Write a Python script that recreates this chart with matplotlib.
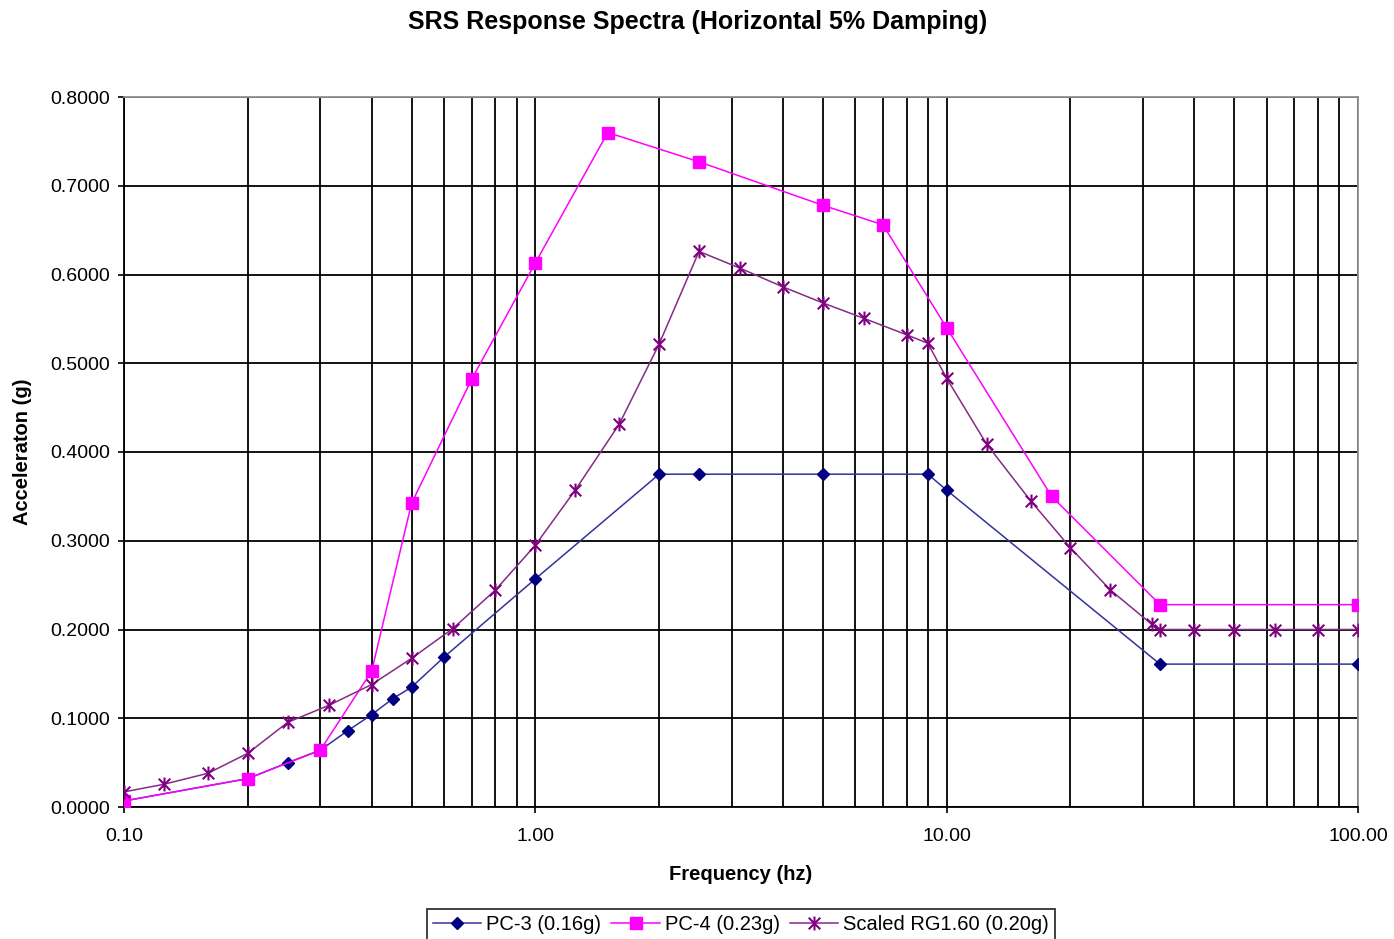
import matplotlib
matplotlib.use("Agg")
import matplotlib.pyplot as plt
from matplotlib.path import Path
from matplotlib.ticker import FixedLocator, NullFormatter, FixedFormatter

# ---------------- data ----------------
pc3_freq = [0.1, 0.2, 0.25, 0.3, 0.35, 0.4, 0.45, 0.5, 0.6, 1.0, 2.0, 2.5, 5.0, 9.0, 10.0, 33.0, 100.0]
pc3_acc = [0.0068, 0.032, 0.050, 0.064, 0.086, 0.104, 0.122, 0.135, 0.169, 0.257, 0.375, 0.375, 0.375, 0.375, 0.357, 0.161, 0.161]

pc4_freq = [0.1, 0.2, 0.3, 0.4, 0.5, 0.7, 1.0, 1.5, 2.5, 5.0, 7.0, 10.0, 18.0, 33.0, 100.0]
pc4_acc = [0.0068, 0.032, 0.064, 0.153, 0.342, 0.482, 0.613, 0.760, 0.727, 0.678, 0.656, 0.540, 0.350, 0.228, 0.228]

rg_freq = [0.1, 0.125, 0.16, 0.2, 0.25, 0.315, 0.4, 0.5, 0.63, 0.8, 1.0, 1.25, 1.6, 2.0, 2.5,
           3.15, 4.0, 5.0, 6.3, 8.0, 9.0, 10.0, 12.5, 16.0, 20.0, 25.0, 31.5, 33.0, 40.0, 50.0, 63.0, 80.0, 100.0]
rg_acc = [0.017, 0.0256, 0.038, 0.0605, 0.0954, 0.1146, 0.138, 0.1675, 0.201, 0.2445, 0.295, 0.357, 0.4315, 0.5217, 0.6260,
          0.607, 0.586, 0.568, 0.5505, 0.532, 0.5225, 0.483, 0.409, 0.345, 0.292, 0.2445, 0.206, 0.200, 0.200, 0.200, 0.200, 0.200, 0.200]

series_labels = ["PC-3 (0.16g)", "PC-4 (0.23g)", "Scaled RG1.60 (0.20g)"]

y_ticks = [0.0, 0.1, 0.2, 0.3, 0.4, 0.5, 0.6, 0.7, 0.8]
x_major = [0.1, 1.0, 10.0, 100.0]
x_major_labels = ["0.10", "1.00", "10.00", "100.00"]

title = "SRS Response Spectra (Horizontal 5% Damping)"
xlabel = "Frequency (hz)"
ylabel = "Acceleraton (g)"

# ---------------- style ----------------
plt.rcParams['font.family'] = ['Liberation Sans', 'DejaVu Sans']

# Excel-like star marker: an x with a vertical bar
star_path = Path(
    [(-1, -1), (1, 1), (-1, 1), (1, -1), (0, -1.2), (0, 1.2)],
    [Path.MOVETO, Path.LINETO, Path.MOVETO, Path.LINETO, Path.MOVETO, Path.LINETO],
)

fig = plt.figure(figsize=(13.94, 9.39), dpi=100)
ax = fig.add_axes([124 / 1394, 1 - 807 / 939, (1358 - 124) / 1394, (807 - 97) / 939])

ax.set_xscale('log')
ax.set_xlim(0.1, 100)
ax.set_ylim(0, 0.8)

l1, = ax.plot(pc3_freq, pc3_acc, color='#33339a', lw=1.1, marker='D', ms=6.5,
              mfc='#000080', mec='#000080', label=series_labels[0], zorder=3)
l2, = ax.plot(pc4_freq, pc4_acc, color='#ff00ff', lw=1.1, marker='s', ms=9,
              mfc='#ff00ff', mec='#ff00ff', label=series_labels[1], zorder=4)
l3, = ax.plot(rg_freq, rg_acc, color='#862a86', lw=1.1, marker=star_path, ms=10,
              mfc='none', mec='#800080', mew=1.5, label=series_labels[2], zorder=5)

# grid
ax.xaxis.set_major_locator(FixedLocator(x_major))
ax.xaxis.set_major_formatter(FixedFormatter(x_major_labels))
minor = [m * d for d in [0.1, 1.0, 10.0] for m in range(2, 10)]
ax.xaxis.set_minor_locator(FixedLocator(minor))
ax.xaxis.set_minor_formatter(NullFormatter())
ax.set_yticks(y_ticks)
ax.set_yticklabels([f"{v:.4f}" for v in y_ticks])

ax.grid(True, which='both', axis='x', color='black', lw=1.3, zorder=0)
ax.grid(True, which='major', axis='y', color='black', lw=1.3, zorder=0)
ax.set_axisbelow(True)

ax.tick_params(axis='x', which='major', direction='out', length=4, width=1.2, pad=11, labelsize=14)
ax.tick_params(axis='x', which='minor', length=0)
ax.tick_params(axis='y', which='major', direction='out', length=4, width=1.2, pad=6, labelsize=14)

for s in ['left', 'bottom']:
    ax.spines[s].set_color('black')
    ax.spines[s].set_linewidth(1.3)
for s in ['top', 'right']:
    ax.spines[s].set_color('#909090')
    ax.spines[s].set_linewidth(1.3)

ax.set_xlabel(xlabel, fontsize=14.5, fontweight='bold')
ax.xaxis.set_label_coords(0.5, -0.081)
ax.set_ylabel(ylabel, fontsize=14.5, fontweight='bold')
ax.yaxis.set_label_coords(-0.0745, 0.5)

fig.suptitle(title, x=698 / 1394, y=1 - 22 / 939, va='center', fontsize=18, fontweight='bold')

leg = fig.legend(handles=[l1, l2, l3], loc='lower center', bbox_to_anchor=(741 / 1394, -0.001),
                 ncol=3, frameon=True, fancybox=False, edgecolor='black', fontsize=14.5,
                 handlelength=2.4, handletextpad=0.25, columnspacing=0.5, borderpad=0.3,
                 borderaxespad=0.0)
leg.get_frame().set_linewidth(1.3)

fig.savefig("out.png", dpi=100)
